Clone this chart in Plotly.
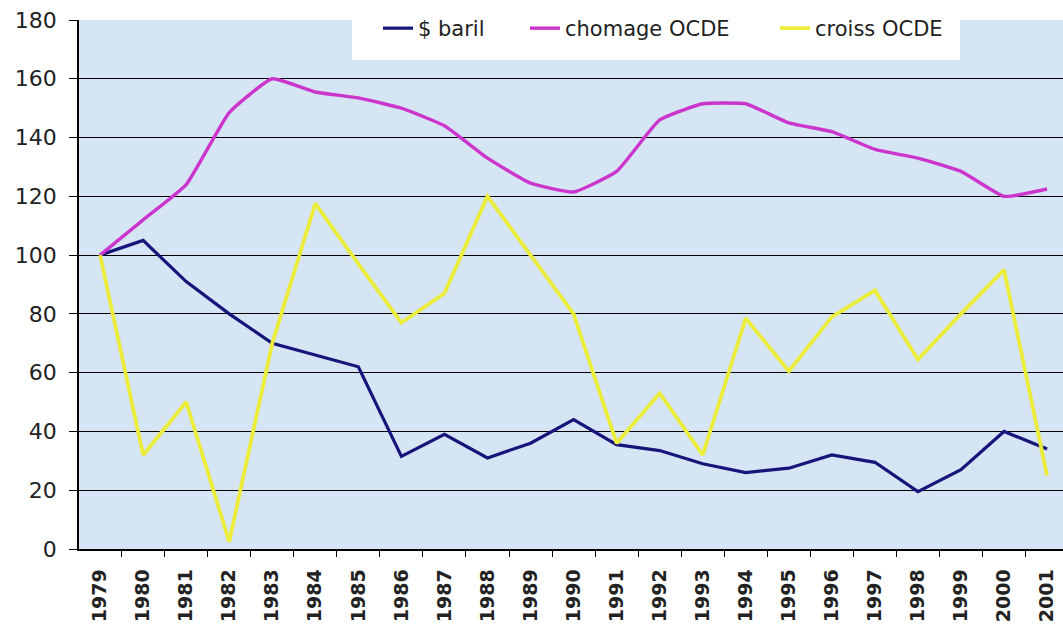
import plotly.graph_objects as go

years = [str(y) for y in range(1979, 2002)]
baril = [100, 105, 91, 80, 70, 66, 62, 31.5, 39, 31, 36, 44, 35.5, 33.5, 29, 26, 27.5, 32, 29.5, 19.5, 27, 40, 34]
chomage = [100, 112, 124, 148.5, 160, 155.5, 153.5, 150, 144, 133, 124.5, 121.5, 128.5, 146, 151.5, 151.5, 145, 142, 136, 133, 128.5, 120, 122.5]
croiss = [100, 32, 50, 2.5, 70, 117.5, 97, 77, 87, 120, 100, 80, 36, 53, 32, 78.5, 60.5, 79, 88, 64.5, 80, 95, 25]
y_ticks = [0, 20, 40, 60, 80, 100, 120, 140, 160, 180]

W, H = 1063, 624
L, R, T, B = 79, 0, 20, 75
pw = W - L - R
ph = H - T - B

fig = go.Figure()
fig.add_trace(go.Scatter(x=years, y=baril, mode="lines", name="$ baril", legend="legend",
                         line=dict(color="#15157a", width=3.2)))
fig.add_trace(go.Scatter(x=years, y=chomage, mode="lines", name="chomage OCDE", legend="legend2",
                         line=dict(color="#cc35cc", width=3.4, shape="spline", smoothing=0.4)))
fig.add_trace(go.Scatter(x=years, y=croiss, mode="lines", name="croiss OCDE", legend="legend3",
                         line=dict(color="#ecec3a", width=3.8)))


def px_x(p):
    return (p - L) / pw


def px_y(p):
    return (H - B - p) / ph


fig.add_shape(type="rect", xref="paper", yref="paper",
              x0=px_x(352), x1=px_x(960), y0=px_y(60), y1=px_y(0),
              fillcolor="white", line=dict(width=0), layer="above")

leg_font = dict(size=21, color="#222222", family="DejaVu Sans")


def leg(text_x):
    return dict(xref="container", yref="container", x=(text_x - 40) / W, y=1 - 8 / H,
                xanchor="left", yanchor="top", bgcolor="rgba(0,0,0,0)",
                font=leg_font, borderwidth=0)


fig.update_layout(
    width=W, height=H,
    margin=dict(l=L, r=R, t=T, b=B, autoexpand=False),
    paper_bgcolor="white",
    plot_bgcolor="#d5e5f4",
    font=dict(family="DejaVu Sans", color="#222222"),
    showlegend=True,
    legend=leg(418),
    legend2=leg(565),
    legend3=leg(815),
)
fig.update_xaxes(type="category", range=[-0.49, 22.37], automargin=False,
                 tickangle=-90, tickfont=dict(size=19, family="DejaVu Sans", color="#222222"),
                 tickprefix="<b>", ticksuffix="</b>",
                 showgrid=False, showline=True, linecolor="black", linewidth=1.5,
                 ticks="outside", tickson="boundaries", ticklen=6, tickcolor="black",
                 ticklabelstandoff=11, ticklabeloverflow="allow", zeroline=False)
fig.update_yaxes(range=[0, 180], tickvals=y_ticks, automargin=False,
                 tickfont=dict(size=22, family="DejaVu Sans", color="#222222"),
                 showgrid=True, gridcolor="black", gridwidth=1.4,
                 showline=True, linecolor="black", linewidth=1.5,
                 ticks="outside", ticklen=8, tickcolor="black",
                 ticklabelstandoff=8, ticklabeloverflow="allow", zeroline=False)

fig.write_html("out.html", config={"displayModeBar": False},
               post_script="document.body.style.margin='0';document.body.style.overflow='hidden';")
